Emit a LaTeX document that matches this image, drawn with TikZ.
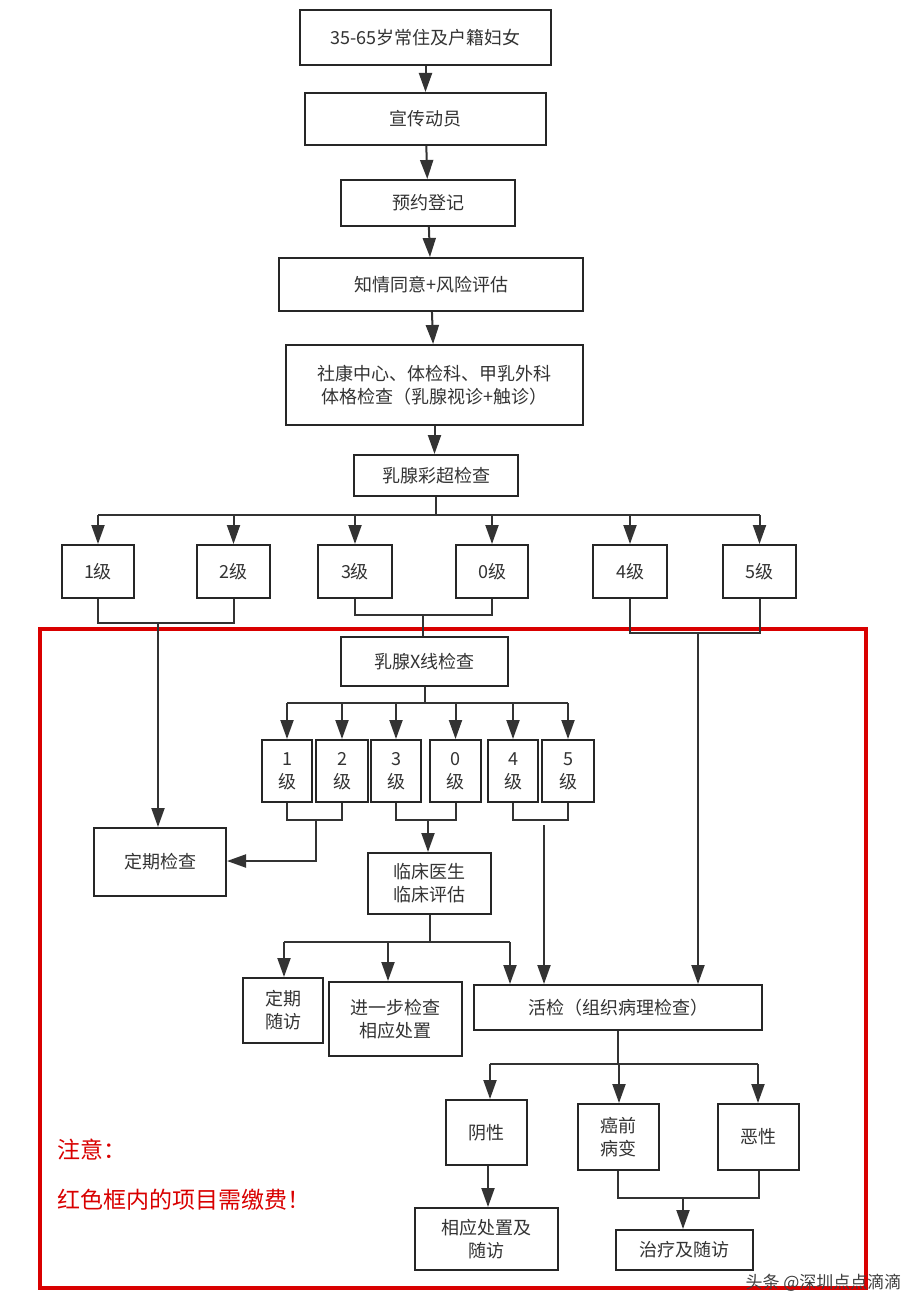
\documentclass[tikz,border=0pt]{standalone}
\usepackage{fontspec}
\setmainfont{Noto Sans CJK SC}
\usetikzlibrary{arrows.meta}
\begin{document}
\begin{tikzpicture}[x=1pt,y=-1pt,
  box/.style={draw=black!85,line width=2pt,inner sep=0pt,align=center,font=\fontsize{18}{23}\selectfont,text=black!80},
  ln/.style={draw=black!80,line width=2pt},
  ar/.style={ln,-{Triangle[width=13pt,length=19pt]}}]
\useasboundingbox (0,0) rectangle (910,1298);
\fill[white] (0,0) rectangle (910,1298);
\newcommand{\bx}[6]{\node[box,minimum width=#4-#2,minimum height=#5-#3] (#1) at ({(#2+#4)/2},{(#3+#5)/2}) {#6};}
\bx{n1}{300}{10}{551}{65}{35-65岁常住及户籍妇女}
\bx{n2}{305}{93}{546}{145}{宣传动员}
\bx{n3}{341}{180}{515}{226}{预约登记}
\bx{n4}{279}{258}{583}{311}{知情同意+风险评估}
\bx{n5}{286}{345}{583}{425}{社康中心、体检科、甲乳外科\\体格检查（乳腺视诊+触诊）}
\bx{n6}{354}{455}{518}{496}{乳腺彩超检查}
\draw[ar] (n1) -- (n2);
\draw[ar] (n2) -- (n3);
\draw[ar] (n3) -- (n4);
\draw[ar] (n4) -- (n5);
\draw[ar] (n5.south) -- (n5.south|-n6.north);
% ultrasound grades
\bx{g1}{62}{545}{134}{598}{1级}
\bx{g2}{197}{545}{270}{598}{2级}
\bx{g3}{318}{545}{392}{598}{3级}
\bx{g0}{456}{545}{528}{598}{0级}
\bx{g4}{593}{545}{667}{598}{4级}
\bx{g5}{723}{545}{796}{598}{5级}
\coordinate (b1) at (436,515);
\draw[ln] (n6.south|-n6.south) -- (436,515);
\draw[ln] (g1.north|-b1) -- (g5.north|-b1);
\foreach \g in {g1,g2,g3,g0,g4,g5} \draw[ar] (\g.north|-b1) -- (\g.north);
% red frame
\draw[red!85!black,line width=4pt] (40,629) rectangle (866,1288);
\bx{xr}{341}{637}{508}{686}{乳腺X线检查}
\bx{dq}{94}{828}{226}{896}{定期检查}
\coordinate (j12) at (0,623);
\draw[ln] (g1.south) -- (g1.south|-j12) -- (g2.south|-j12) -- (g2.south);
\draw[ar] (158,623) -- (dq.north-|158,0);
\coordinate (j30) at (0,615);
\draw[ln] (g3.south) -- (g3.south|-j30) -- (g0.south|-j30) -- (g0.south);
\draw[ln] (423,615) -- (xr.north-|423,0);
\coordinate (j45) at (0,633);
\draw[ln] (g4.south) -- (g4.south|-j45) -- (g5.south|-j45) -- (g5.south);
% mammography grades
\bx{m1}{262}{740}{312}{802}{1\\级}
\bx{m2}{316}{740}{368}{802}{2\\级}
\bx{m3}{371}{740}{421}{802}{3\\级}
\bx{m0}{430}{740}{481}{802}{0\\级}
\bx{m4}{488}{740}{538}{802}{4\\级}
\bx{m5}{542}{740}{594}{802}{5\\级}
\coordinate (b2) at (0,703);
\draw[ln] (xr.south) -- (xr.south|-b2);
\draw[ln] (m1.north|-b2) -- (m5.north|-b2);
\foreach \g in {m1,m2,m3,m0,m4,m5} \draw[ar] (\g.north|-b2) -- (\g.north);
\bx{lc}{368}{853}{491}{914}{临床医生\\临床评估}
\bx{sf}{243}{978}{323}{1043}{定期\\随访}
\bx{jy}{329}{982}{462}{1056}{进一步检查\\相应处置}
\bx{hj}{474}{985}{762}{1030}{活检（组织病理检查）}
\coordinate (j2) at (0,820);
\draw[ln] (m1.south) -- (m1.south|-j2) -- (m2.south|-j2) -- (m2.south);
\draw[ln] (m3.south) -- (m3.south|-j2) -- (m0.south|-j2) -- (m0.south);
\draw[ln] (m4.south) -- (m4.south|-j2) -- (m5.south|-j2) -- (m5.south);
\draw[ar] (316,820) -- (316,861) -- (dq.east|-0,861);
\draw[ar] (428,820) -- (lc.north-|428,0);
\draw[ar] (544,825) -- (hj.north-|544,0);
\draw[ar] (698,633) -- (hj.north-|698,0);
\coordinate (b3) at (0,942);
\draw[ln] (lc.south-|430,0) -- (430,942);
\draw[ln] (284,942) -- (510,942);
\draw[ar] (284,942) -- (sf.north-|284,0);
\draw[ar] (388,942) -- (jy.north-|388,0);
\draw[ar] (510,942) -- (hj.north-|510,0);
\bx{yx}{446}{1100}{527}{1165}{阴性}
\bx{aq}{578}{1104}{659}{1170}{癌前\\病变}
\bx{ex}{718}{1104}{799}{1170}{恶性}
\bx{xy}{415}{1208}{558}{1270}{相应处置及\\随访}
\bx{zl}{616}{1230}{753}{1270}{治疗及随访}
\draw[ln] (hj.south-|618,0) -- (618,1064);
\draw[ln] (490,1064) -- (758,1064);
\draw[ar] (490,1064) -- (yx.north-|490,0);
\draw[ar] (619,1064) -- (aq.north-|619,0);
\draw[ar] (758,1064) -- (ex.north-|758,0);
\draw[ar] (yx.south-|488,0) -- (xy.north-|488,0);
\draw[ln] (aq.south-|618,0) -- (618,1198) -- (759,1198) -- (ex.south-|759,0);
\draw[ar] (683,1198) -- (zl.north-|683,0);
\node[anchor=west,text=red!85!black,font=\fontsize{23}{26}\selectfont] (t1) at (54,1150) {注意：};
\node[anchor=west,text=red!85!black,font=\fontsize{23}{26}\selectfont] (t2) at (54,1200) {红色框内的项目需缴费！};
\node[anchor=east,text=black!75,font=\fontsize{17}{20}\selectfont] (wm) at (905,1283) {头条 @深圳点点滴滴};
\end{tikzpicture}
\end{document}
